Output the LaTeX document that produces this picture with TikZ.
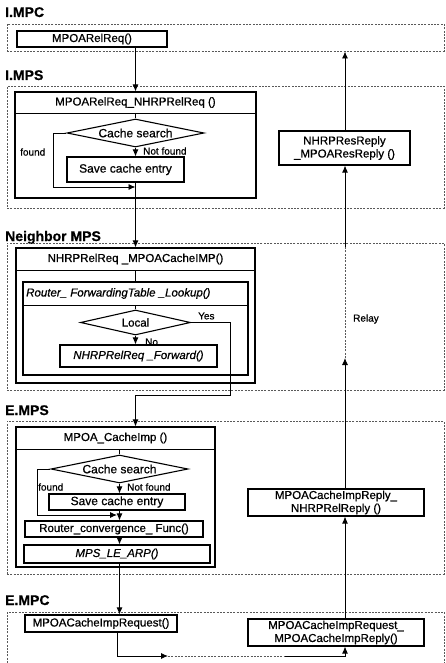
\documentclass[tikz,border=0pt]{standalone}
\usepackage{fontspec}
\setmainfont{Liberation Sans}[FakeBold=0.7]
\usetikzlibrary{arrows.meta,shapes.geometric}
\begin{document}
\begin{tikzpicture}[x=1pt,y=-1pt,
  every node/.style={font=\fontsize{11.5}{13}\selectfont, inner sep=0pt},
  region/.style={draw=black!65, line width=0.45pt, dash pattern=on 2pt off 1.3pt},
  fbox/.style={draw, line width=1.1pt, align=center},
  cond/.style={draw, diamond, line width=1.1pt, aspect=4.5},
  arr/.style={draw, line width=0.9pt, -{Latex[length=7pt,width=6pt]}},
  ln/.style={draw, line width=0.9pt},
  relayln/.style={draw=black!65, line width=0.45pt, dash pattern=on 2pt off 1.3pt},
  sec/.style={font=\fontsize{14}{16}\selectfont\bfseries, anchor=base west},
  lbl/.style={font=\fontsize{10}{12}\selectfont, anchor=west},
  itl/.style={font=\fontsize{11.5}{13}\selectfont\itshape},
  big/.style={font=\fontsize{12}{14}\selectfont},
  ]
\useasboundingbox (0,0) rectangle (446,663);

% ---------- section labels ----------
\node[sec] (s1) at (5,17) {I.MPC};
\node[sec] (s2) at (5,80) {I.MPS};
\node[sec] (s3) at (5,241) {Neighbor MPS};
\node[sec] (s4) at (5,415) {E.MPS};
\node[sec] (s5) at (5,605) {E.MPC};

% ---------- regions ----------
\node[region, minimum width=437, minimum height=27] (r1) at (225.5,37.5) {};
\node[region, minimum width=437, minimum height=122] (r2) at (225.5,147) {};
\node[region, minimum width=437, minimum height=147] (r3) at (225.5,316.5) {};
\node[region, minimum width=437, minimum height=153] (r4) at (225.5,497.5) {};
\draw[region] (7,663) -- (7,612) -- (444,612) -- (444,663);

% ---------- I.MPC ----------
\node[fbox, minimum width=150, minimum height=16] (relreq) at (92,39) {MPOARelReq()};

% ---------- I.MPS ----------
\node[fbox, minimum width=241, minimum height=106] (b1) at (135.5,145) {};
\node (h1) at (135.5,102.5) {MPOARelReq\_NHRPRelReq ()};
\coordinate (hl1) at (135.5,113);
\draw[ln] (b1.west |- hl1) -- (b1.east |- hl1);
\node[cond, big, minimum width=137, minimum height=28] (d1) at (135.5,133) {Cache search};
\node[fbox, big, minimum width=117, minimum height=25] (save1) at (125.5,169.5) {Save cache entry};
\node[lbl] (nf1) at (143,151) {Not found};
\node[lbl] (f1) at (20,152) {found};
\coordinate (lc1) at (53,187);
\coordinate (lp1) at (135.5,187);
\draw[ln] (hl1) -- (d1.north);
\draw[arr] (d1.south) -- (save1.north -| d1.south);
\draw[arr] (d1.west) -| (lc1) -- (lp1);

% ---------- right column ----------
\node[fbox, minimum width=131, minimum height=34] (resreply) at (344.5,148) {NHRPResReply\\\_MPOAResReply ()};
\coordinate (tiptop) at (345,51.5);
\draw[arr] (resreply.north -| tiptop) -- (tiptop);

% ---------- Neighbor MPS ----------
\node[fbox, minimum width=239, minimum height=135] (b2) at (135.5,315.5) {};
\node (h2) at (135.5,259) {NHRPRelReq \_MPOACacheIMP()};
\coordinate (hl2) at (135.5,270);
\draw[ln] (b2.west |- hl2) -- (b2.east |- hl2);
\node[fbox, minimum width=225, minimum height=93] (inner) at (135.5,328.5) {};
\node[itl, anchor=west] (h2b) at (26,293.5) {Router\_ ForwardingTable \_Lookup()};
\coordinate (hl3) at (135.5,305);
\draw[ln] (inner.west |- hl3) -- (inner.east |- hl3);
\draw[ln] (hl2) -- (inner.north);
\node[cond, minimum width=110, minimum height=25] (d2) at (135.5,322.5) {Local};
\draw[ln] (hl3) -- (d2.north);
\node[fbox, itl, minimum width=157, minimum height=22] (fwd) at (138.5,356) {NHRPRelReq \_Forward()};
\draw[arr] (d2.south) -- (fwd.north -| d2.south);
\node[lbl] (no) at (145,342) {No};
\node[lbl] (yes) at (198,316) {Yes};

\node[lbl] (relay) at (353,319) {Relay};

% I.MPS -> Neighbor
\draw[arr] (save1.south -| lp1) -- (b2.north);
\draw[arr] (relreq.south -| b1.north) -- (b1.north);

% ---------- E.MPS ----------
\node[fbox, minimum width=199, minimum height=140] (b3) at (115.5,497) {};
\node (h3) at (115.5,438) {MPOA\_CacheImp ()};
\coordinate (hl4) at (119.5,449);
\draw[ln] (b3.west |- hl4) -- (b3.east |- hl4);
\node[cond, big, minimum width=137, minimum height=28] (d3) at (119.5,469) {Cache search};
\draw[ln] (hl4) -- (d3.north);
\node[fbox, big, minimum width=136, minimum height=16] (save3) at (117,502) {Save cache entry};
\node[lbl] (nf3) at (127,487) {Not found};
\node[lbl] (f3) at (38,487) {found};
\node[fbox, minimum width=178, minimum height=16] (router) at (114,529) {Router\_convergence\_ Func()};
\node[fbox, itl, minimum width=186, minimum height=18] (mps) at (117,554) {MPS\_LE\_ARP()};
\coordinate (lc3) at (37,515);
\coordinate (lp3) at (117,515);
\draw[arr] (d3.south) -- (save3.north -| d3.south);
\draw[arr] (d3.west) -| (lc3) -- (lp3);
\draw[arr] (save3.south -| d3.south) -- (router.north -| d3.south);
\draw[arr] (router.south -| d3.south) -- (mps.north -| d3.south);

% Neighbor -> E.MPS (Yes)
\coordinate (ya) at (230,395);
\coordinate (yb) at (135.5,395);
\draw[arr] (d2.east) -| (ya) -- (yb) -- (b3.north -| yb);

% right column E.MPS
\node[fbox, minimum width=176, minimum height=27] (cirply) at (336,502.5) {MPOACacheImpReply\_\\NHRPRelReply ()};
\coordinate (rb) at (345,358);
\coordinate (ra) at (345,247);
\draw[arr] (cirply.north -| rb) -- (rb);
\draw[relayln] (rb) -- (ra);
\draw[arr] (ra) -- (resreply.south -| ra);

% ---------- E.MPC ----------
\node[fbox, minimum width=152, minimum height=17] (req) at (101,623.5) {MPOACacheImpRequest()};
\node[fbox, minimum width=176, minimum height=27] (reqrep) at (336,632.5) {MPOACacheImpRequest\_\\MPOACacheImpReply()};
\draw[arr] (mps.south -| d3.south) -- (req.north -| d3.south);
\draw[arr] (reqrep.north -| rb) -- (cirply.south -| rb);
\coordinate (bl) at (117,656);
\coordinate (bm) at (168,656);
\coordinate (bn) at (285,656);
\coordinate (br) at (345,656);
\draw[arr] (req.south -| bl) -- (bl) -- (bm);
\draw[relayln] (bm) -- (bn);
\draw[arr] (bn) -- (br) -- (reqrep.south -| br);
\end{tikzpicture}
\end{document}
